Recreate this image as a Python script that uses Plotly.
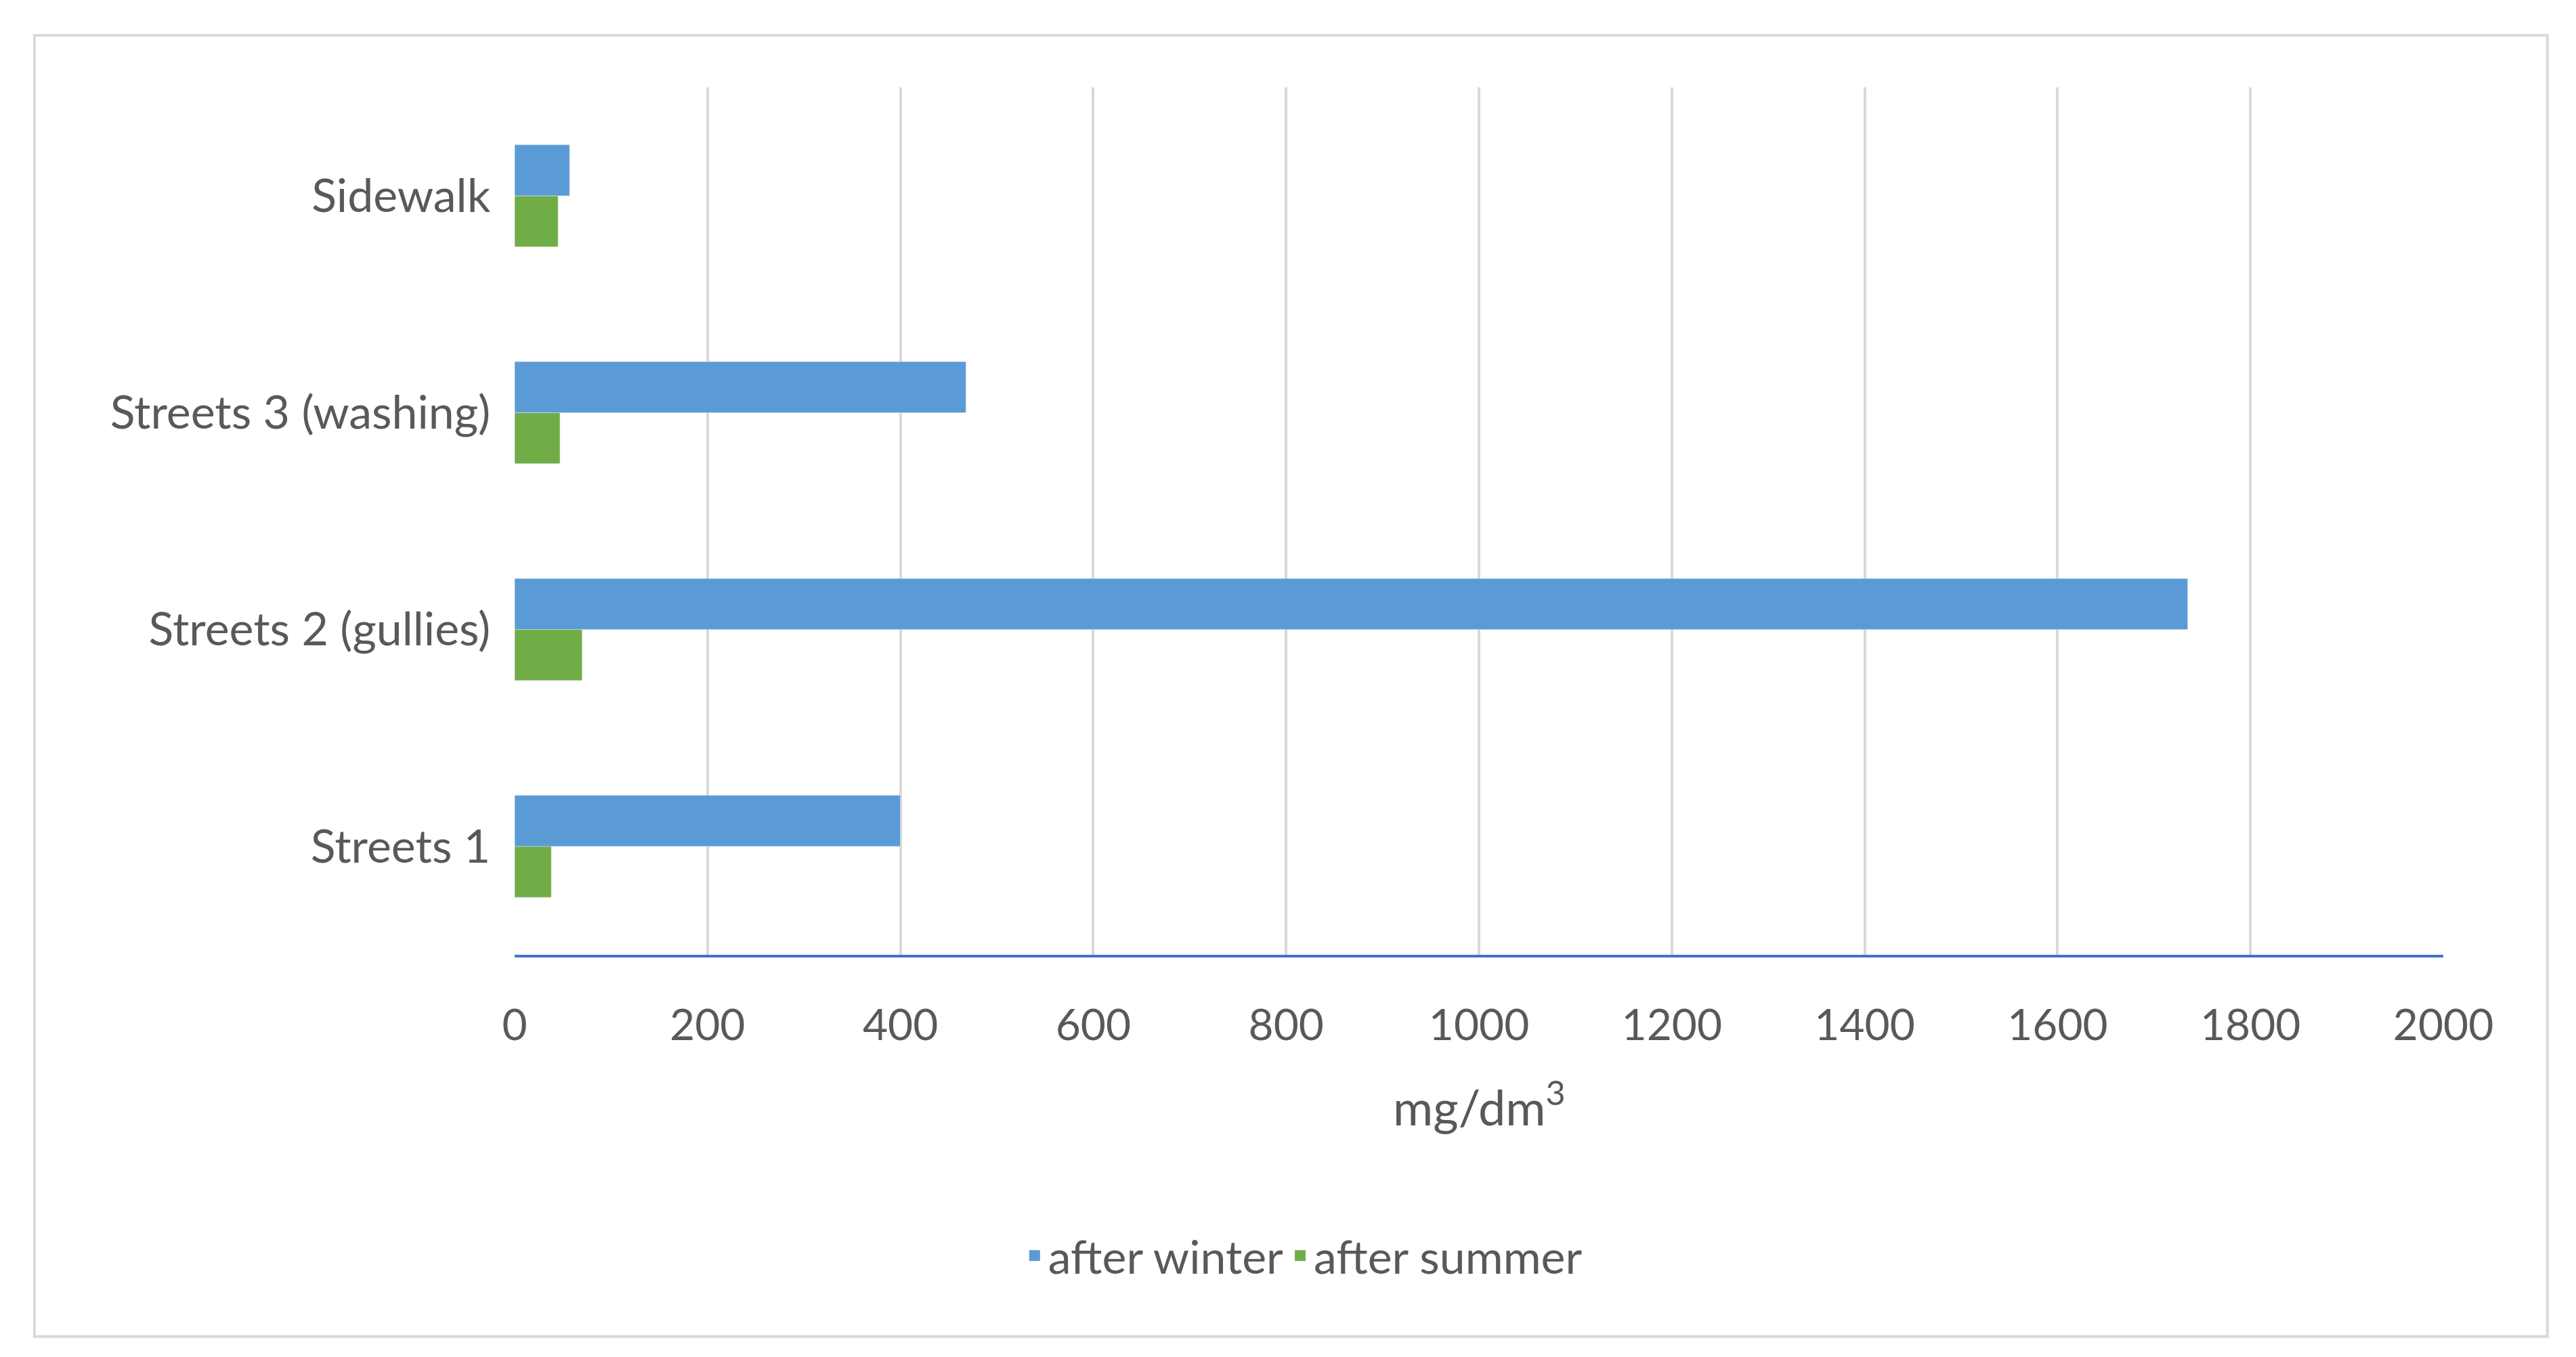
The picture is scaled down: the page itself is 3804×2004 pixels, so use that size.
import plotly.graph_objects as go

categories = ["Streets 1", "Streets 2 (gullies)", "Streets 3 (washing)", "Sidewalk"]
after_winter = [400, 1735, 468, 57]
after_summer = [38, 70, 47, 45]
x_ticks = list(range(0, 2001, 200))
BLUE, GREEN = "#5b9bd5", "#70ad47"

fig = go.Figure()
fig.add_trace(go.Bar(y=categories, x=after_summer, orientation="h", name="after summer", marker_color=GREEN, showlegend=False))
fig.add_trace(go.Bar(y=categories, x=after_winter, orientation="h", name="after winter", marker_color=BLUE, showlegend=False))
# legend entries with square markers
fig.add_trace(go.Scatter(x=[None], y=[None], mode="markers", name="after winter",
                         marker=dict(symbol="square", size=42, color=BLUE)))
fig.add_trace(go.Scatter(x=[None], y=[None], mode="markers", name="after summer",
                         marker=dict(symbol="square", size=42, color=GREEN)))

font = "Lato, Open Sans, sans-serif"
fig.update_layout(
    width=3804, height=2004, plot_bgcolor="white", paper_bgcolor="white",
    margin=dict(l=752, r=204, t=121, b=602),
    barmode="group", bargap=0.53, bargroupgap=0,
    font=dict(family=font, size=68, color="#595959"),
    legend=dict(orientation="h", x=0.409, xanchor="center", y=-0.347, yanchor="middle",
                font=dict(size=68, color="#595959"), itemsizing="trace"),
    xaxis=dict(range=[0, 2000], tickvals=x_ticks, showgrid=True, gridcolor="#d9d9d9", gridwidth=4,
               zeroline=False, showline=True, linecolor="#4472c4", linewidth=4,
               tickfont=dict(size=64), ticks="outside", ticklen=45, tickcolor="rgba(0,0,0,0)"),
    yaxis=dict(showgrid=False, zeroline=False, showline=False, ticksuffix="  ", tickfont=dict(size=68),
               type="category", categoryorder="array", categoryarray=categories),
    annotations=[dict(text="mg/dm<sup>3</sup>", xref="paper", yref="paper", x=0.5, y=-0.171,
                      showarrow=False, font=dict(size=72, color="#595959"), yanchor="middle")],
    shapes=[dict(type="rect", xref="paper", yref="paper", x0=-0.249, x1=1.054, y0=-0.44, y1=1.06,
                 line=dict(color="#d9d9d9", width=4))],
)
fig.write_html("out.html")
